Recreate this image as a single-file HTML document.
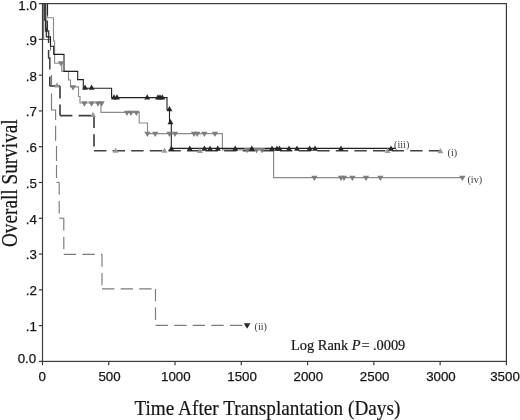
<!DOCTYPE html>
<html><head><meta charset="utf-8"><title>Overall Survival</title>
<style>html,body{margin:0;padding:0;background:#fff;}body{width:520px;height:420px;overflow:hidden;}svg{display:block;}.sans{font-family:"Liberation Sans",Arial,Helvetica,sans-serif;font-size:13.3px;fill:#151515;stroke:#151515;stroke-width:0.25px;}.lab{font-family:"Liberation Serif","Times New Roman",serif;font-size:10.2px;fill:#3a3a3a;}.bold{stroke:#161616;stroke-width:0.2px;}.serif{font-family:"Liberation Serif","Times New Roman",Times,serif;fill:#161616;}</style></head><body>
<svg width="520" height="420" viewBox="0 0 520 420">
<rect x="0" y="0" width="520" height="420" fill="#ffffff"/>
<g stroke="#7c7c7c" stroke-width="1.15" stroke-dasharray="12.4 6.2" fill="none" stroke-linecap="butt"><line x1="56.50" y1="182.40" x2="59.20" y2="182.40"/><line x1="59.20" y1="182.40" x2="59.20" y2="218.20"/><line x1="59.20" y1="218.20" x2="63.80" y2="218.20"/><line x1="63.80" y1="218.20" x2="63.80" y2="254.35"/><line x1="63.80" y1="254.35" x2="102.00" y2="254.35"/><line x1="102.00" y1="254.35" x2="102.00" y2="288.90"/><line x1="102.00" y1="288.90" x2="155.50" y2="288.90"/><line x1="155.50" y1="288.90" x2="155.50" y2="325.30"/><line x1="155.50" y1="325.30" x2="244.00" y2="325.30"/></g>
<path d="M43.6,3.6 V39.5 H50.5 V50.5 M51.5,75 V85 M51.5,93.5 V110 H55.6 V120 M55.6,125.7 V140.7 M56.5,146 V161 M56.5,165 V178" fill="none" stroke="#7c7c7c" stroke-width="1.15"/>
<path d="M47.5,3.6 V17.75 H53.5 V41 H54.6 V63.2 H61.8 V71.3 H68.5 V80 H70.5 V86.8 H78.5 V96.5 H80 V103 H101 V112.4 H139.2 V123 H147.5 V133.6 H222.4 V149.9 H273.6 V177.6 H462" fill="none" stroke="#8b8b8b" stroke-width="1.15"/>
<g stroke="#404040" stroke-width="1.65" stroke-dasharray="12.4 6.2" fill="none" stroke-linecap="butt"><line x1="49.80" y1="76.50" x2="49.80" y2="86.00"/><line x1="49.80" y1="86.00" x2="60.00" y2="86.00"/><line x1="60.00" y1="86.00" x2="60.00" y2="115.60"/><line x1="60.00" y1="115.60" x2="94.00" y2="115.60"/><line x1="94.00" y1="115.60" x2="94.00" y2="150.75"/></g>
<g stroke="#404040" stroke-width="1.4" stroke-dasharray="12.4 6.2" fill="none" stroke-linecap="butt"><line x1="94.00" y1="150.75" x2="440.50" y2="150.75"/></g>
<path d="M44.7,3.6 V20 H45.6 V31 H48.6 V43 M48.6,50 V58 H49.8 V69.6" fill="none" stroke="#404040" stroke-width="1.5"/>
<path d="M45.8,3.6 V27 L47,30.6 H46.3 V36.9 H50.5 V46.3 H53.7 V54.35 H64 V71.4 H77.7 V79.6 H83.3 V88.3 H111.6 V97.6 H167 V109.5 H169.5 V122.5 H171.3 V148.35 H396" fill="none" stroke="#1f1f1f" stroke-width="1.1"/>
<path d="M47.5,3.6 V15.5 M47.4,20.5 V30.5" fill="none" stroke="#2a2a2a" stroke-width="1.1"/>
<path d="M57.85,61.27 L64.15,61.27 L61.00,66.57 Z" fill="#7e7e7e"/>
<path d="M69.85,85.27 L76.15,85.27 L73.00,90.57 Z" fill="#7e7e7e"/>
<path d="M81.25,101.37 L87.55,101.37 L84.40,106.67 Z" fill="#7e7e7e"/>
<path d="M88.45,101.37 L94.75,101.37 L91.60,106.67 Z" fill="#7e7e7e"/>
<path d="M94.85,101.37 L101.15,101.37 L98.00,106.67 Z" fill="#7e7e7e"/>
<path d="M98.45,101.37 L104.75,101.37 L101.60,106.67 Z" fill="#7e7e7e"/>
<path d="M123.85,110.67 L130.15,110.67 L127.00,115.97 Z" fill="#7e7e7e"/>
<path d="M127.85,110.67 L134.15,110.67 L131.00,115.97 Z" fill="#7e7e7e"/>
<path d="M133.25,110.67 L139.55,110.67 L136.40,115.97 Z" fill="#7e7e7e"/>
<path d="M144.25,131.77 L150.55,131.77 L147.40,137.07 Z" fill="#7e7e7e"/>
<path d="M152.05,131.77 L158.35,131.77 L155.20,137.07 Z" fill="#7e7e7e"/>
<path d="M166.35,131.77 L172.65,131.77 L169.50,137.07 Z" fill="#7e7e7e"/>
<path d="M171.85,131.77 L178.15,131.77 L175.00,137.07 Z" fill="#7e7e7e"/>
<path d="M190.85,131.77 L197.15,131.77 L194.00,137.07 Z" fill="#7e7e7e"/>
<path d="M194.05,131.77 L200.35,131.77 L197.20,137.07 Z" fill="#7e7e7e"/>
<path d="M201.25,131.77 L207.55,131.77 L204.40,137.07 Z" fill="#7e7e7e"/>
<path d="M211.85,131.77 L218.15,131.77 L215.00,137.07 Z" fill="#7e7e7e"/>
<path d="M243.85,147.97 L250.15,147.97 L247.00,153.27 Z" fill="#7e7e7e"/>
<path d="M253.45,147.97 L259.75,147.97 L256.60,153.27 Z" fill="#7e7e7e"/>
<path d="M258.85,147.97 L265.15,147.97 L262.00,153.27 Z" fill="#7e7e7e"/>
<path d="M311.25,175.67 L317.55,175.67 L314.40,180.97 Z" fill="#7e7e7e"/>
<path d="M337.85,175.67 L344.15,175.67 L341.00,180.97 Z" fill="#7e7e7e"/>
<path d="M340.85,175.67 L347.15,175.67 L344.00,180.97 Z" fill="#7e7e7e"/>
<path d="M349.25,175.67 L355.55,175.67 L352.40,180.97 Z" fill="#7e7e7e"/>
<path d="M362.85,175.67 L369.15,175.67 L366.00,180.97 Z" fill="#7e7e7e"/>
<path d="M377.25,175.67 L383.55,175.67 L380.40,180.97 Z" fill="#7e7e7e"/>
<path d="M459.25,175.67 L465.55,175.67 L462.40,180.97 Z" fill="#7e7e7e"/>
<path d="M54.05,87.43 L59.95,87.43 L57.00,82.13 Z" fill="#9a9a9a"/>
<path d="M90.05,117.03 L95.95,117.03 L93.00,111.73 Z" fill="#9a9a9a"/>
<path d="M112.65,152.83 L118.55,152.83 L115.60,147.53 Z" fill="#9a9a9a"/>
<path d="M161.55,152.83 L167.45,152.83 L164.50,147.53 Z" fill="#9a9a9a"/>
<path d="M197.05,153.03 L202.95,153.03 L200.00,147.73 Z" fill="#9a9a9a"/>
<path d="M384.65,153.03 L390.55,153.03 L387.60,147.73 Z" fill="#9a9a9a"/>
<path d="M437.45,153.23 L443.35,153.23 L440.40,147.93 Z" fill="#9a9a9a"/>
<path d="M82.05,89.83 L87.95,89.83 L85.00,84.53 Z" fill="#262626"/>
<path d="M88.65,89.83 L94.55,89.83 L91.60,84.53 Z" fill="#262626"/>
<path d="M111.05,99.43 L116.95,99.43 L114.00,94.13 Z" fill="#262626"/>
<path d="M114.05,99.43 L119.95,99.43 L117.00,94.13 Z" fill="#262626"/>
<path d="M144.25,99.43 L150.15,99.43 L147.20,94.13 Z" fill="#262626"/>
<path d="M155.05,99.43 L160.95,99.43 L158.00,94.13 Z" fill="#262626"/>
<path d="M157.05,99.43 L162.95,99.43 L160.00,94.13 Z" fill="#262626"/>
<path d="M159.35,99.43 L165.25,99.43 L162.30,94.13 Z" fill="#262626"/>
<path d="M166.55,111.23 L172.45,111.23 L169.50,105.93 Z" fill="#262626"/>
<path d="M167.55,124.23 L173.45,124.23 L170.50,118.93 Z" fill="#262626"/>
<path d="M168.45,150.83 L174.35,150.83 L171.40,145.53 Z" fill="#262626"/>
<path d="M186.85,150.83 L192.75,150.83 L189.80,145.53 Z" fill="#262626"/>
<path d="M201.45,150.83 L207.35,150.83 L204.40,145.53 Z" fill="#262626"/>
<path d="M207.05,150.83 L212.95,150.83 L210.00,145.53 Z" fill="#262626"/>
<path d="M214.85,150.83 L220.75,150.83 L217.80,145.53 Z" fill="#262626"/>
<path d="M232.25,150.83 L238.15,150.83 L235.20,145.53 Z" fill="#262626"/>
<path d="M248.85,150.83 L254.75,150.83 L251.80,145.53 Z" fill="#262626"/>
<path d="M269.05,150.83 L274.95,150.83 L272.00,145.53 Z" fill="#262626"/>
<path d="M274.05,150.83 L279.95,150.83 L277.00,145.53 Z" fill="#262626"/>
<path d="M276.55,150.83 L282.45,150.83 L279.50,145.53 Z" fill="#262626"/>
<path d="M286.05,150.83 L291.95,150.83 L289.00,145.53 Z" fill="#262626"/>
<path d="M294.05,150.83 L299.95,150.83 L297.00,145.53 Z" fill="#262626"/>
<path d="M306.65,150.83 L312.55,150.83 L309.60,145.53 Z" fill="#262626"/>
<path d="M312.05,150.83 L317.95,150.83 L315.00,145.53 Z" fill="#262626"/>
<path d="M338.05,150.83 L343.95,150.83 L341.00,145.53 Z" fill="#262626"/>
<path d="M388.05,150.83 L393.95,150.83 L391.00,145.53 Z" fill="#262626"/>
<path d="M243.75,323.25 L250.45,323.25 L247.10,328.85 Z" fill="#262626"/>
<g stroke="#3c3c3c" stroke-width="1.2" fill="none">
<rect x="42.50" y="3.60" width="463.90" height="357.80"/>
<line x1="38.8" y1="361.40" x2="42.50" y2="361.40"/>
<line x1="38.8" y1="325.62" x2="42.50" y2="325.62"/>
<line x1="38.8" y1="289.84" x2="42.50" y2="289.84"/>
<line x1="38.8" y1="254.06" x2="42.50" y2="254.06"/>
<line x1="38.8" y1="218.28" x2="42.50" y2="218.28"/>
<line x1="38.8" y1="182.50" x2="42.50" y2="182.50"/>
<line x1="38.8" y1="146.72" x2="42.50" y2="146.72"/>
<line x1="38.8" y1="110.94" x2="42.50" y2="110.94"/>
<line x1="38.8" y1="75.16" x2="42.50" y2="75.16"/>
<line x1="38.8" y1="39.38" x2="42.50" y2="39.38"/>
<line x1="38.8" y1="3.60" x2="42.50" y2="3.60"/>
<line x1="42.50" y1="361.40" x2="42.50" y2="365.2"/>
<line x1="108.77" y1="361.40" x2="108.77" y2="365.2"/>
<line x1="175.04" y1="361.40" x2="175.04" y2="365.2"/>
<line x1="241.31" y1="361.40" x2="241.31" y2="365.2"/>
<line x1="307.59" y1="361.40" x2="307.59" y2="365.2"/>
<line x1="373.86" y1="361.40" x2="373.86" y2="365.2"/>
<line x1="440.13" y1="361.40" x2="440.13" y2="365.2"/>
<line x1="506.40" y1="361.40" x2="506.40" y2="365.2"/>
</g>
<text class="sans" x="36.2" y="362.60" text-anchor="end">0.0</text>
<text class="sans" x="36.8" y="331.02" text-anchor="end">.1</text>
<text class="sans" x="36.8" y="295.24" text-anchor="end">.2</text>
<text class="sans" x="36.8" y="259.46" text-anchor="end">.3</text>
<text class="sans" x="36.8" y="223.68" text-anchor="end">.4</text>
<text class="sans" x="36.8" y="187.90" text-anchor="end">.5</text>
<text class="sans" x="36.8" y="152.12" text-anchor="end">.6</text>
<text class="sans" x="36.8" y="116.34" text-anchor="end">.7</text>
<text class="sans" x="36.8" y="80.56" text-anchor="end">.8</text>
<text class="sans" x="36.8" y="44.78" text-anchor="end">.9</text>
<text class="sans" x="36.8" y="9.50" text-anchor="end">1.0</text>
<text class="sans" x="42.20" y="380.5" text-anchor="middle">0</text>
<text class="sans" x="109.57" y="380.5" text-anchor="middle">500</text>
<text class="sans" x="175.84" y="380.5" text-anchor="middle">1000</text>
<text class="sans" x="242.11" y="380.5" text-anchor="middle">1500</text>
<text class="sans" x="308.39" y="380.5" text-anchor="middle">2000</text>
<text class="sans" x="374.66" y="380.5" text-anchor="middle">2500</text>
<text class="sans" x="440.93" y="380.5" text-anchor="middle">3000</text>
<text class="sans" x="505.00" y="380.5" text-anchor="middle">3500</text>
<text class="serif bold" transform="translate(267.4,414.9) scale(1,1.035)" text-anchor="middle" font-size="19.25">Time After Transplantation (Days)</text>
<text class="serif bold" transform="translate(16.5,183.2) rotate(-90) scale(1,1.15)" text-anchor="middle" font-size="19.25">Overall Survival</text>
<text class="serif" stroke="#161616" stroke-width="0.2" transform="translate(291,349.6) scale(1,1.04)" font-size="14.4">Log Rank <tspan font-style="italic">P</tspan><tspan dx="0.8">=</tspan><tspan dx="3.4">.0009</tspan></text>
<text class="lab" transform="translate(394.0,148.3) scale(1,1.08)">(iii)</text>
<text class="lab" transform="translate(447.5,155.9) scale(1,1.08)">(i)</text>
<text class="lab" transform="translate(467.4,182.8) scale(1,1.08)">(iv)</text>
<text class="lab" transform="translate(254.5,330.3) scale(1,1.08)">(ii)</text>
</svg></body></html>
